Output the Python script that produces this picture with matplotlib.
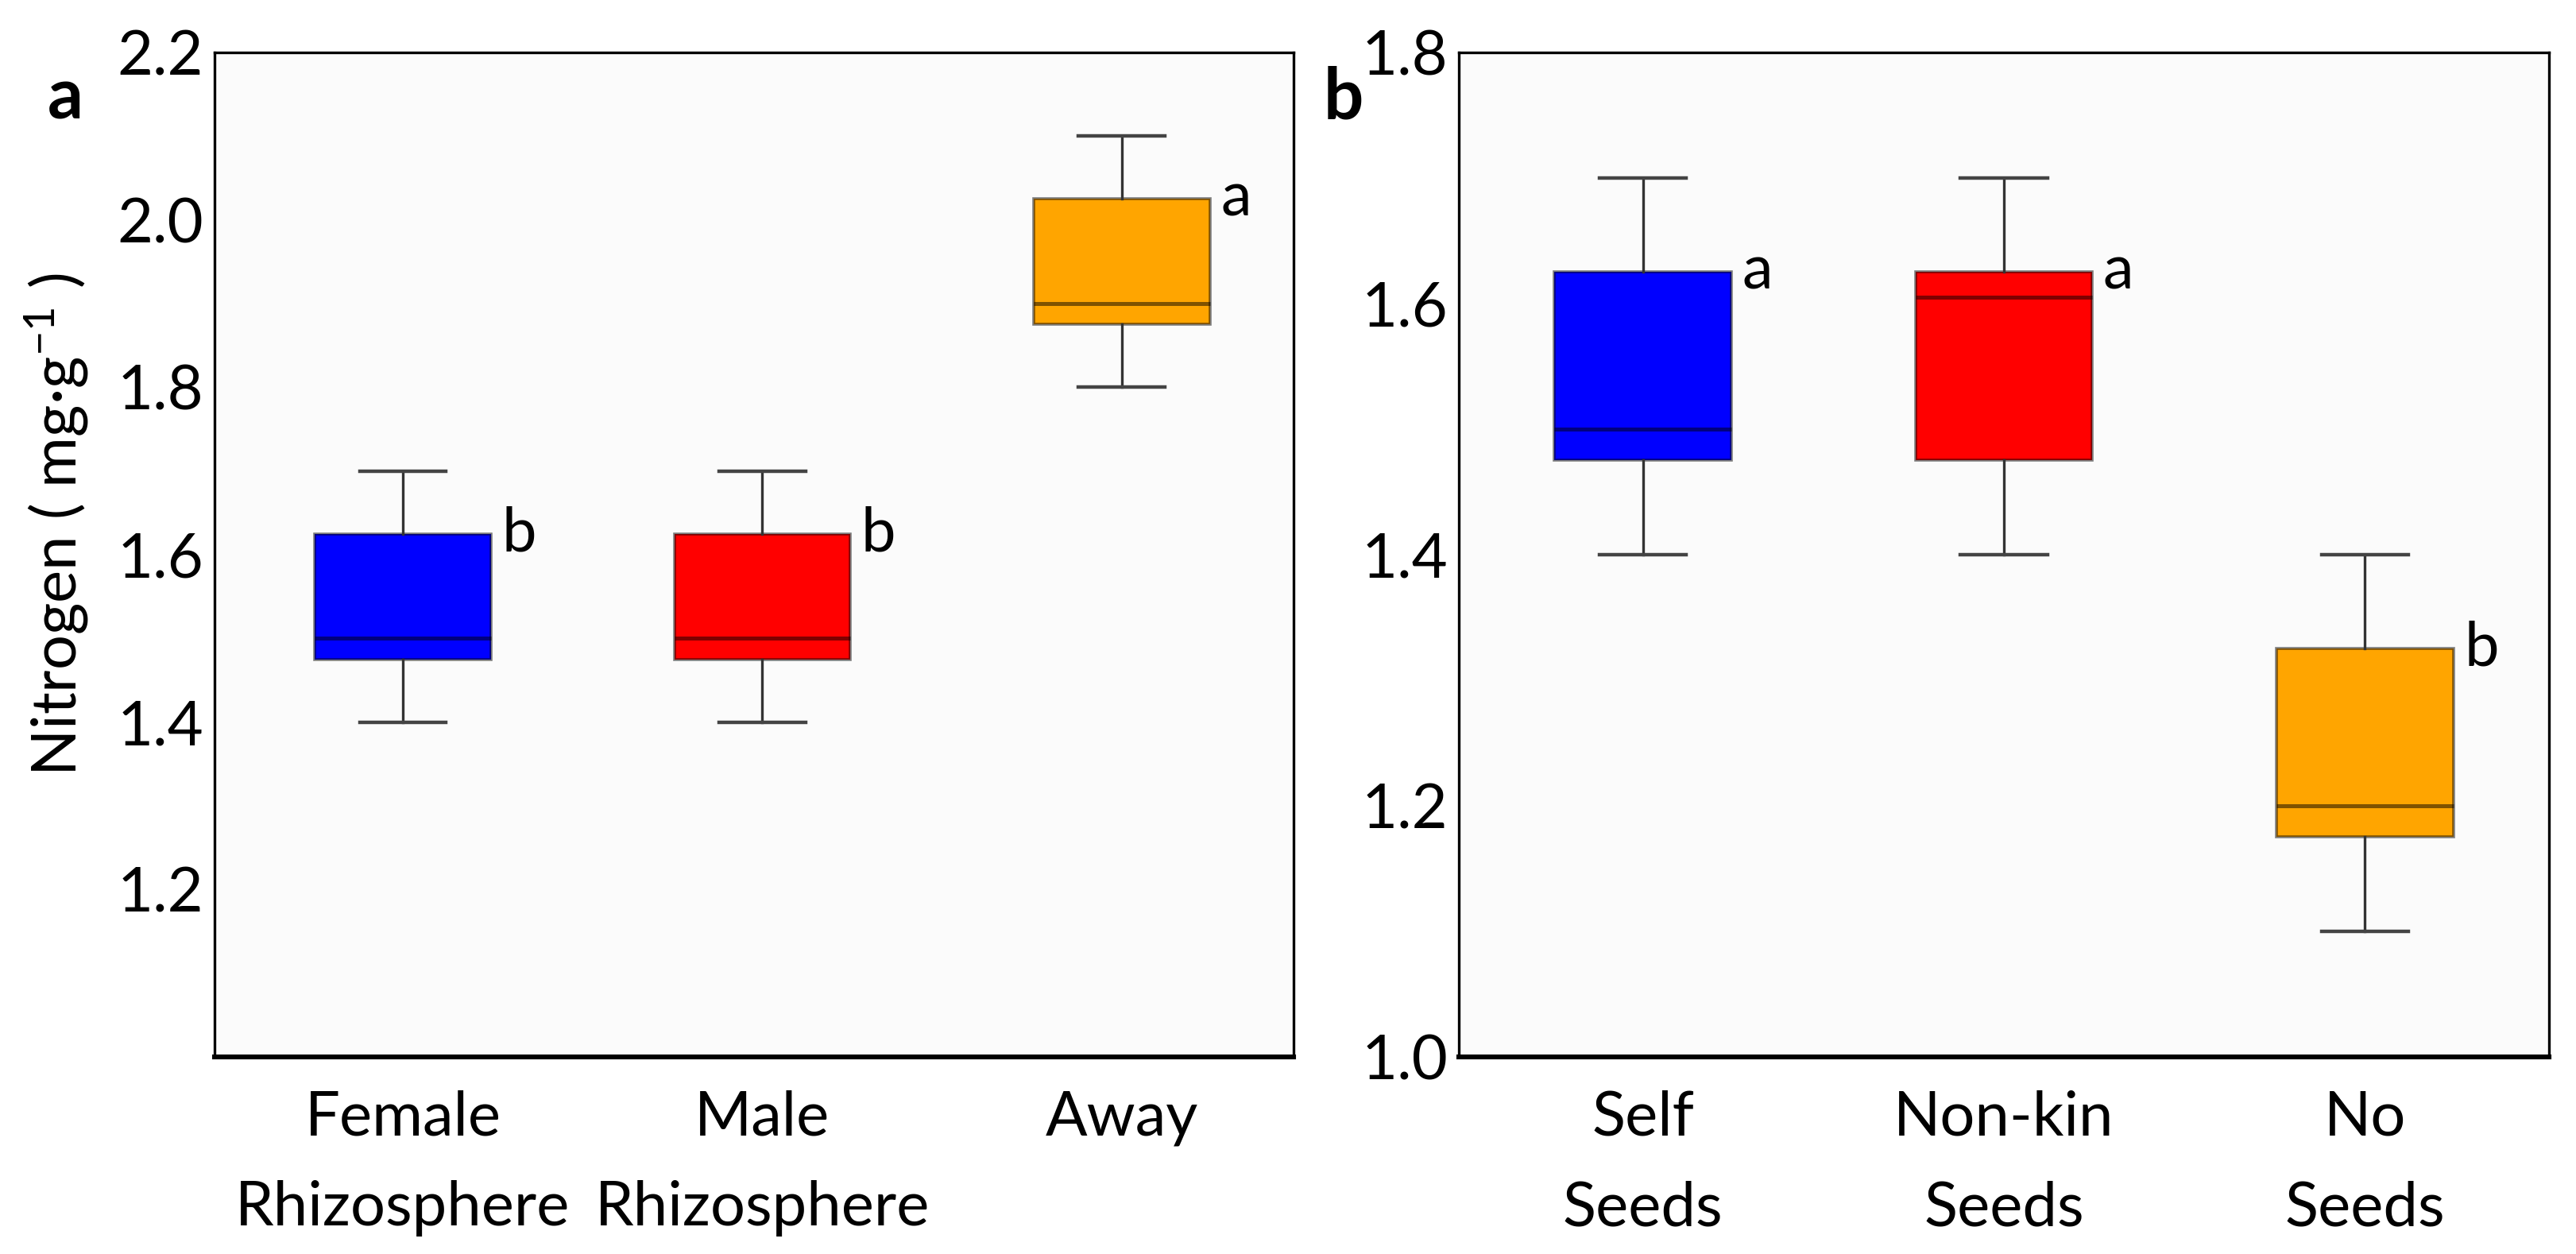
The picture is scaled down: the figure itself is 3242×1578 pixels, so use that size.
import matplotlib
matplotlib.use("Agg")
import matplotlib.pyplot as plt

plt.rcParams['font.family'] = ['Lato', 'DejaVu Sans']
plt.rcParams['mathtext.fontset'] = 'custom'
plt.rcParams['mathtext.rm'] = 'Lato'
plt.rcParams['mathtext.it'] = 'Lato:italic'

# panel a: soil near plants of each sex vs away
groups_a = ["Female\nRhizosphere", "Male\nRhizosphere", "Away"]
whislo_a = [1.40, 1.40, 1.80]
q1_a = [1.475, 1.475, 1.875]
med_a = [1.50, 1.50, 1.90]
q3_a = [1.625, 1.625, 2.025]
whishi_a = [1.70, 1.70, 2.10]
letters_a = ["b", "b", "a"]

# panel b: seed treatments
groups_b = ["Self\nSeeds", "Non-kin\nSeeds", "No\nSeeds"]
whislo_b = [1.40, 1.40, 1.10]
q1_b = [1.475, 1.475, 1.175]
med_b = [1.50, 1.605, 1.20]
q3_b = [1.625, 1.625, 1.325]
whishi_b = [1.70, 1.70, 1.40]
letters_b = ["a", "a", "b"]

colors = ["#0000ff", "#ff0000", "#ffa500"]

FS = 28
W, H = 3242, 1578
fig = plt.figure(figsize=(W / 200, H / 200), dpi=200)


def panel(rect, groups, lo, q1, med, q3, hi, letters, ylim, yticks, xlim, tag):
    ax = fig.add_axes(rect)
    ax.set_facecolor("#fbfbfb")
    stats = []
    for i in range(len(groups)):
        stats.append(dict(whislo=lo[i], q1=q1[i], med=med[i], q3=q3[i],
                          whishi=hi[i], fliers=[]))
    pos = list(range(len(groups)))
    bp = ax.bxp(stats, positions=pos, widths=0.49, capwidths=0.24,
                patch_artist=True, showfliers=False,
                boxprops=dict(linewidth=1.3),
                medianprops=dict(color=(0, 0, 0, 0.5), linewidth=1.8),
                whiskerprops=dict(color="#333333", linewidth=1.2),
                capprops=dict(color="#444444", linewidth=1.6))
    for patch, c in zip(bp["boxes"], colors):
        patch.set_facecolor(c)
        patch.set_edgecolor((0, 0, 0, 0.5))
    for i, t in enumerate(letters):
        ax.text(pos[i] + 0.275, q3[i], t, fontsize=FS, va="center", ha="left")
    ax.set_xlim(*xlim)
    ax.set_ylim(*ylim)
    ax.set_yticks(yticks)
    ax.set_yticklabels([f"{v:.1f}" for v in yticks], fontsize=FS)
    ax.set_xticks(pos)
    ax.set_xticklabels(groups, fontsize=FS, linespacing=1.75)
    ax.tick_params(length=0)
    ax.tick_params(axis="y", pad=5)
    ax.tick_params(axis="x", pad=15)
    for s in ax.spines.values():
        s.set_linewidth(1.2)
    ax.spines["bottom"].set_linewidth(2.2)
    x0 = rect[0]
    fig.text(x0 - tag[0], tag[1], tag[2], fontsize=FS + 4, fontweight="bold",
             ha="left", va="baseline")
    return ax


ax_a = panel([270 / W, 1 - 1330 / H, 1358 / W, 1264 / H], groups_a,
             whislo_a, q1_a, med_a, q3_a, whishi_a, letters_a,
             (1.0, 2.2), [1.2, 1.4, 1.6, 1.8, 2.0, 2.2], (-0.524, 2.478),
             (210 / W, 1 - 150 / H, "a"))
ax_a.set_ylabel("Nitrogen ( mg·g$^{-1}$ )", fontsize=FS)
ax_a.yaxis.set_label_coords(-0.115, 0.53)

ax_b = panel([1836 / W, 1 - 1330 / H, 1372 / W, 1264 / H], groups_b,
             whislo_b, q1_b, med_b, q3_b, whishi_b, letters_b,
             (1.0, 1.8), [1.0, 1.2, 1.4, 1.6, 1.8], (-0.51, 2.51),
             (170 / W, 1 - 150 / H, "b"))

fig.savefig("out.png", dpi=200, facecolor="white")
